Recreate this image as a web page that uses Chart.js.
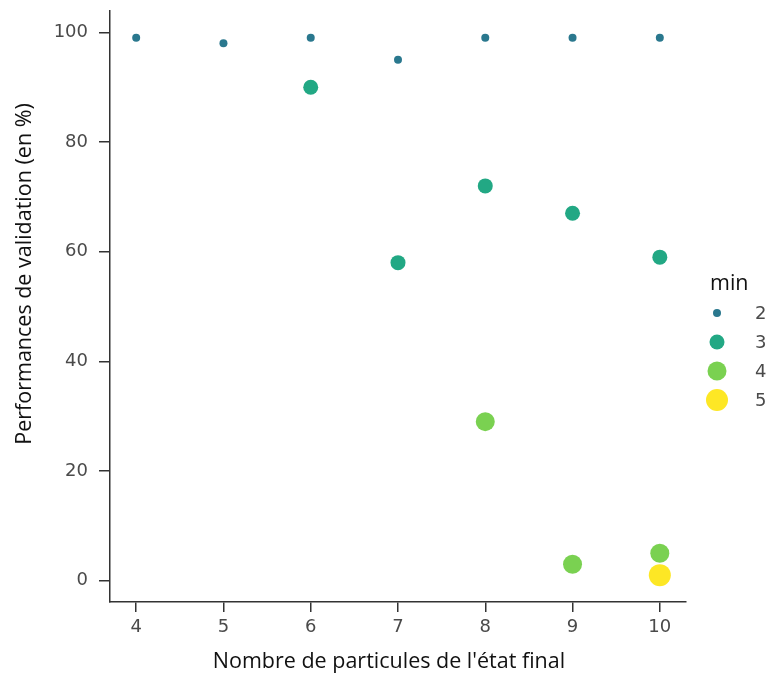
<!DOCTYPE html>
<html lang="fr">
<head>
<meta charset="utf-8">
<title>Performances de validation</title>
<script src="https://cdn.jsdelivr.net/npm/chart.js@4.4.1/dist/chart.umd.min.js"></script>
<style>
  html, body { margin: 0; padding: 0; background: #fff; }
</style>
</head>
<body>
<canvas id="chart" width="769" height="675"></canvas>
<script>
// Nuage de points : performances de validation selon le nombre de
// particules de l'état final, une série par valeur de "min".
const xTicks = [4, 5, 6, 7, 8, 9, 10];
const yTicks = [0, 20, 40, 60, 80, 100];

const minLevels = ['2', '3', '4', '5'];
const minColors = ['#2a788e', '#22a884', '#7ad151', '#fde725'];
const minRadius = [4, 7.5, 9.5, 11];

const min2X = [4, 5, 6, 7, 8, 9, 10];
const min2Y = [99, 98, 99, 95, 99, 99, 99];
const min3X = [6, 7, 8, 9, 10];
const min3Y = [90, 58, 72, 67, 59];
const min4X = [8, 9, 10];
const min4Y = [29, 3, 5];
const min5X = [10];
const min5Y = [1];

const xTitle = "Nombre de particules de l'état final";
const yTitle = 'Performances de validation (en %)';
const legendTitle = 'min';

const seriesX = [min2X, min3X, min4X, min5X];
const seriesY = [min2Y, min3Y, min4Y, min5Y];

const tickFont = { family: '"DejaVu Sans"', size: 18 };
const tickColor = '#4a4a4a';
const axisColor = '#333';
const titleFont = '21.5px "Open Sans"';

const datasets = minLevels.map((lvl, i) => ({
  label: lvl,
  data: seriesX[i].map((x, j) => ({ x, y: seriesY[i][j] })),
  backgroundColor: minColors[i],
  borderColor: minColors[i],
  borderWidth: 0,
  pointRadius: minRadius[i],
  pointHoverRadius: minRadius[i],
  order: minLevels.length - i, // les dernières séries passent devant
  clip: false,
}));

// titres des axes, placés à la main
const axisTitles = {
  id: 'axisTitles',
  afterDraw(chart) {
    const ctx = chart.ctx;
    ctx.save();
    ctx.font = titleFont;
    ctx.fillStyle = '#111';
    ctx.textAlign = 'center';
    ctx.textBaseline = 'alphabetic';
    ctx.fillText(xTitle, 389, 668);
    ctx.translate(31, 274);
    ctx.rotate(-Math.PI / 2);
    ctx.fillText(yTitle, 0, 0);
    ctx.restore();
  },
};

// légende à droite : taille et couleur reprises des séries
const sizeLegend = {
  id: 'sizeLegend',
  afterDraw(chart) {
    const ctx = chart.ctx;
    ctx.save();
    ctx.font = titleFont;
    ctx.fillStyle = '#111';
    ctx.textAlign = 'left';
    ctx.textBaseline = 'middle';
    ctx.fillText(legendTitle, 710, 284);
    ctx.font = tickFont.size + 'px ' + tickFont.family;
    chart.data.datasets.forEach((ds, i) => {
      const y = 313 + i * 29;
      ctx.beginPath();
      ctx.arc(717, y, ds.pointRadius, 0, Math.PI * 2);
      ctx.fillStyle = ds.backgroundColor;
      ctx.fill();
      ctx.fillStyle = tickColor;
      ctx.fillText(ds.label, 755, y + 1);
    });
    ctx.restore();
  },
};

new Chart(document.getElementById('chart'), {
  type: 'scatter',
  data: { datasets },
  options: {
    responsive: false,
    animation: false,
    events: [],
    layout: { padding: { top: 10, right: 83, bottom: 0, left: 0 } },
    plugins: {
      legend: { display: false },
      tooltip: { enabled: false },
    },
    scales: {
      x: {
        type: 'linear',
        min: 3.7,
        max: 10.3,
        afterBuildTicks: (s) => { s.ticks = xTicks.map((v) => ({ value: v })); },
        afterFit: (s) => { s.height = 73; },
        grid: { drawOnChartArea: false, drawTicks: true, tickLength: 10, color: axisColor, lineWidth: 1.5 },
        border: { color: axisColor, width: 1.5 },
        ticks: { font: tickFont, color: tickColor, padding: 5, maxRotation: 0 },
      },
      y: {
        type: 'linear',
        min: -3.9,
        max: 103.9,
        afterBuildTicks: (s) => { s.ticks = yTicks.map((v) => ({ value: v })); },
        afterFit: (s) => {
          s.width = 110;
          // pas de marge réservée pour les étiquettes extrêmes
          s.paddingTop = 0;
          s.paddingBottom = 0;
        },
        grid: { drawOnChartArea: false, drawTicks: true, tickLength: 11, color: axisColor, lineWidth: 1.5 },
        border: { color: axisColor, width: 1.5 },
        ticks: { font: tickFont, color: tickColor, padding: 11 },
      },
    },
  },
  plugins: [axisTitles, sizeLegend],
});
</script>
</body>
</html>
